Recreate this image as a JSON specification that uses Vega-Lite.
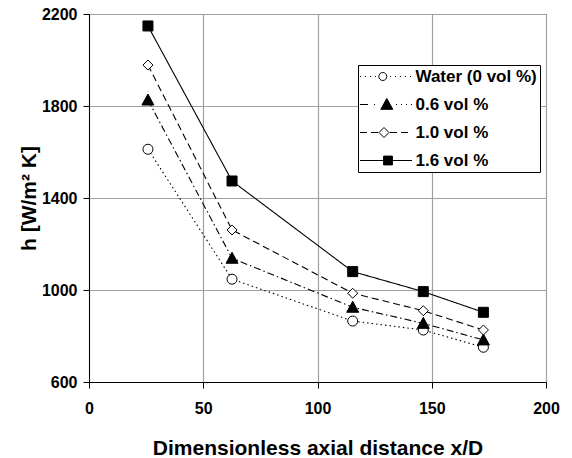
{
  "$schema": "https://vega.github.io/schema/vega-lite/v6.json",
  "width": 457,
  "height": 368,
  "autosize": {"type": "none"},
  "padding": {"left": 89, "top": 14, "right": 26, "bottom": 76},
  "background": "white",
  "config": {
    "view": {"stroke": "black", "strokeWidth": 1},
    "font": "Liberation Sans",
    "axis": {
      "labelFont": "Liberation Sans", "labelFontWeight": "bold", "labelFontSize": 16, "labelColor": "black",
      "titleFont": "Liberation Sans", "titleFontWeight": "bold", "titleFontSize": 21, "titleColor": "black",
      "domainColor": "black", "tickColor": "black", "gridColor": "#a0a0a0", "gridWidth": 1.2, "tickSize": 6,
      "labelFlush": false, "labelOverlap": false
    },
    "legend": {
      "title": null, "orient": "none", "legendX": 269, "legendY": 51, "padding": 3,
      "strokeColor": "black", "fillColor": "white",
      "labelFont": "Liberation Sans", "labelFontWeight": "bold", "labelFontSize": 17, "labelColor": "black",
      "symbolSize": 64, "symbolOffset": 16.5, "labelOffset": 21, "rowPadding": 10,
      "symbolStrokeColor": "black", "symbolStrokeWidth": 1
    }
  },
  "data": {
    "values": [
      {"series": "Water (0 vol %)", "x": 25.8, "y": 1612},
      {"series": "Water (0 vol %)", "x": 62.6, "y": 1047},
      {"series": "Water (0 vol %)", "x": 115.4, "y": 865},
      {"series": "Water (0 vol %)", "x": 146.3, "y": 826},
      {"series": "Water (0 vol %)", "x": 172.6, "y": 751},
      {"series": "0.6 vol %", "x": 25.8, "y": 1826},
      {"series": "0.6 vol %", "x": 62.6, "y": 1138},
      {"series": "0.6 vol %", "x": 115.4, "y": 925},
      {"series": "0.6 vol %", "x": 146.3, "y": 855},
      {"series": "0.6 vol %", "x": 172.6, "y": 783},
      {"series": "1.0 vol %", "x": 25.8, "y": 1978},
      {"series": "1.0 vol %", "x": 62.6, "y": 1261},
      {"series": "1.0 vol %", "x": 115.4, "y": 986},
      {"series": "1.0 vol %", "x": 146.3, "y": 910},
      {"series": "1.0 vol %", "x": 172.6, "y": 826},
      {"series": "1.6 vol %", "x": 25.8, "y": 2148},
      {"series": "1.6 vol %", "x": 62.6, "y": 1474},
      {"series": "1.6 vol %", "x": 115.4, "y": 1080},
      {"series": "1.6 vol %", "x": 146.3, "y": 993},
      {"series": "1.6 vol %", "x": 172.6, "y": 903}
    ]
  },
  "encoding": {
    "x": {
      "field": "x", "type": "quantitative",
      "scale": {"domain": [0, 200], "nice": false},
      "axis": {"title": "Dimensionless axial distance x/D", "values": [0, 50, 100, 150, 200], "format": "d", "labelPadding": 12, "titlePadding": 21}
    },
    "y": {
      "field": "y", "type": "quantitative",
      "scale": {"domain": [600, 2200], "nice": false, "zero": false},
      "axis": {"title": "h [W/m² K]", "values": [600, 1000, 1400, 1800, 2200], "format": "d", "labelPadding": 6, "titlePadding": 2}
    }
  },
  "layer": [
    {
      "mark": {"type": "line", "color": "black", "strokeWidth": 1.1},
      "encoding": {
        "strokeDash": {
          "field": "series", "type": "nominal",
          "scale": {"domain": ["Water (0 vol %)", "0.6 vol %", "1.0 vol %", "1.6 vol %"], "range": [[1.5, 3], [7, 3, 1.5, 3], [7, 4], [1, 0]]},
          "legend": null
        },
        "order": {"field": "x", "type": "quantitative"}
      }
    },
    {
      "mark": {"type": "point", "stroke": "black", "strokeWidth": 1, "opacity": 1, "size": 100},
      "encoding": {
        "shape": {
          "field": "series", "type": "nominal",
          "scale": {"domain": ["Water (0 vol %)", "0.6 vol %", "1.0 vol %", "1.6 vol %"], "range": ["circle", "M0,-1.2L1.2,1L-1.2,1Z", "diamond", "square"]},
          "legend": null
        },
        "fill": {
          "field": "series", "type": "nominal",
          "scale": {"domain": ["Water (0 vol %)", "0.6 vol %", "1.0 vol %", "1.6 vol %"], "range": ["white", "black", "white", "black"]},
          "legend": null
        }
      }
    },
    {
      "transform": [{"filter": "false"}],
      "mark": {"type": "point", "strokeWidth": 1, "opacity": 1, "size": 64},
      "encoding": {
        "shape": {
          "field": "series", "type": "nominal",
          "scale": {"domain": ["Water (0 vol %)", "0.6 vol %", "1.0 vol %", "1.6 vol %"], "range": [
            "M-6.5,0h0.25M-5.25,0h0.25M-4,0h0.25M-2.75,0h0.25M-1.8,0A1,1,0,1,0,0.2,0A1,1,0,1,0,-1.8,0ZM1,0h0.25M2.25,0h0.25M3.5,0h0.25M4.75,0h0.25M6,0h0.25",
            "M-6.5,0h2M-3,0h0.25M0.2,-1.5L1.7,1.2L-1.3,1.2ZM2.5,0h0.25M3.75,0h0.25M5,0h0.25M6.25,0h0.25",
            "M-6.5,0h1.75M-3.75,0h1.75M-0.5,-1.25L0.75,0L-0.5,1.25L-1.75,0ZM1,0h1.75M3.75,0h1.75",
            "M-6.5,0H-0.6M1.6,0H6.5M-0.6,-1.1H1.6V1.1H-0.6Z"
          ]}
        },
        "fill": {
          "field": "series", "type": "nominal",
          "scale": {"domain": ["Water (0 vol %)", "0.6 vol %", "1.0 vol %", "1.6 vol %"], "range": ["white", "black", "white", "black"]}
        },
        "stroke": {
          "field": "series", "type": "nominal",
          "scale": {"domain": ["Water (0 vol %)", "0.6 vol %", "1.0 vol %", "1.6 vol %"], "range": ["black", "black", "black", "black"]}
        }
      }
    }
  ],
  "resolve": {
    "scale": {"shape": "independent", "fill": "independent", "stroke": "independent"},
    "legend": {"shape": "independent", "fill": "independent", "stroke": "independent"}
  }
}
